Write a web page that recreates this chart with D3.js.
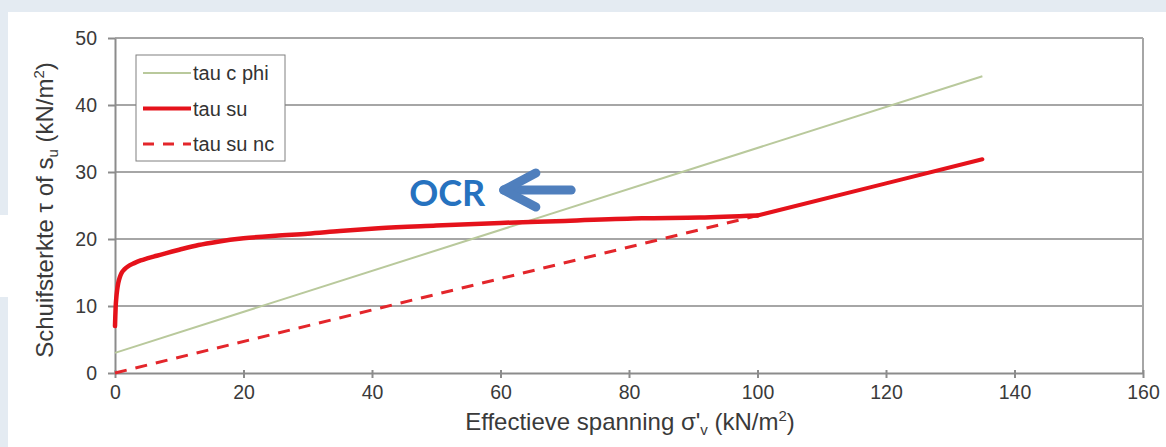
<!DOCTYPE html>
<html>
<head>
<meta charset="utf-8">
<script src="https://cdn.jsdelivr.net/npm/d3@7"></script>
<style>
  body { margin: 0; background: #e4ebf2; }
  svg { display: block; }
</style>
</head>
<body>
<script>
// effective stress (kN/m2) vs shear strength (kN/m2)
var phiX = [0, 135];
var phiY = [3, 44.3];

var suX = [0, 0.05, 0.1, 0.2, 0.35, 0.5, 0.75, 1, 1.5, 2, 3, 4, 5, 6.5, 8, 10, 13, 16, 20, 25, 30, 35, 41, 50, 60, 70, 82, 91, 100, 120, 135];
var suY = [7, 8.5, 9.8, 11.2, 12.5, 13.4, 14.3, 14.9, 15.5, 15.9, 16.4, 16.8, 17.1, 17.5, 17.9, 18.4, 19.1, 19.6, 20.1, 20.5, 20.8, 21.2, 21.6, 22, 22.4, 22.7, 23.1, 23.2, 23.5, 28.3, 31.9];

var ncX = [0, 100];
var ncY = [0, 23.5];

var xTicks = [0, 20, 40, 60, 80, 100, 120, 140, 160];
var yTicks = [0, 10, 20, 30, 40, 50];
var legendNames = ["tau c phi", "tau su", "tau su nc"];

var width = 1166, height = 447;
var font = "'Liberation Sans', Arial, sans-serif";
var preload = 100; // kink where the su line joins the nc line

var x = d3.scaleLinear().domain([0, 160]).range([115, 1143]);
var y = d3.scaleLinear().domain([0, 50]).range([373, 38]);

var svg = d3.select("body").append("svg")
    .attr("width", width)
    .attr("height", height);

// page background + white panel
svg.append("rect").attr("width", width).attr("height", height).attr("fill", "#e4ebf2");
svg.append("rect").attr("x", 8).attr("y", 12).attr("width", width - 8).attr("height", height - 12).attr("fill", "#ffffff");
svg.append("rect").attr("x", 0).attr("y", 215).attr("width", 8).attr("height", 82).attr("fill", "#ffffff");

// gridlines
svg.append("g")
  .selectAll("line")
  .data(yTicks.slice(1))
  .enter().append("line")
    .attr("x1", x(0)).attr("x2", x(160))
    .attr("y1", function(d) { return y(d); })
    .attr("y2", function(d) { return y(d); })
    .attr("stroke", "#a6a6a6")
    .attr("stroke-width", 2);

// right frame
svg.append("line")
    .attr("x1", x(160)).attr("x2", x(160))
    .attr("y1", y(50)).attr("y2", y(0))
    .attr("stroke", "#a6a6a6")
    .attr("stroke-width", 2);

// axes
var xAxis = svg.append("g")
    .attr("transform", "translate(0," + y(0) + ")")
    .call(d3.axisBottom(x).tickValues(xTicks).tickSize(5).tickPadding(7).tickSizeOuter(0));
var yAxis = svg.append("g")
    .attr("transform", "translate(" + x(0) + ",0)")
    .call(d3.axisLeft(y).tickValues(yTicks).tickSize(7).tickPadding(11).tickSizeOuter(0));

[xAxis, yAxis].forEach(function(a) {
  a.select(".domain").attr("stroke", "#8c8c8c").attr("stroke-width", 2);
  a.selectAll(".tick line").attr("stroke", "#8c8c8c").attr("stroke-width", 2);
  a.selectAll("text")
    .attr("font-family", font)
    .attr("font-size", "19.5px")
    .attr("fill", "#3a3a3a");
});
xAxis.selectAll(".tick line").attr("y1", -3);

// series
var line = d3.line()
    .x(function(d) { return x(d[0]); })
    .y(function(d) { return y(d[1]); });

function pairs(xs, ys) {
  return xs.map(function(v, i) { return [v, ys[i]]; });
}

svg.append("path")
    .attr("d", line(pairs(phiX, phiY)))
    .attr("fill", "none")
    .attr("stroke", "#b9c99c")
    .attr("stroke-width", 2);

svg.append("path")
    .attr("d", line(pairs(ncX, ncY)))
    .attr("fill", "none")
    .attr("stroke", "#e3262b")
    .attr("stroke-width", 3)
    .attr("stroke-dasharray", "12,9");

var su = pairs(suX, suY);
var suCurve = d3.line()
    .x(function(d) { return x(d[0]); })
    .y(function(d) { return y(d[1]); })
    .curve(d3.curveMonotoneX);

svg.append("path")
    .attr("d", suCurve(su.filter(function(d) { return d[0] <= preload; })))
    .attr("fill", "none")
    .attr("stroke", "#e5121b")
    .attr("stroke-width", 4.5)
    .attr("stroke-linecap", "round");
svg.append("path")
    .attr("d", line(su.filter(function(d) { return d[0] >= preload; })))
    .attr("fill", "none")
    .attr("stroke", "#e5121b")
    .attr("stroke-width", 4)
    .attr("stroke-linecap", "round");

// legend
var legend = svg.append("g").attr("transform", "translate(136,55)");
legend.append("rect")
    .attr("width", 149).attr("height", 106)
    .attr("fill", "#ffffff")
    .attr("stroke", "#808080")
    .attr("stroke-width", 1);

var legendStyles = [
  { stroke: "#b9c99c", w: 2, dash: null },
  { stroke: "#e5121b", w: 4, dash: null },
  { stroke: "#e3262b", w: 3, dash: "11,9" }
];

var item = legend.selectAll(".item")
  .data(legendNames)
  .enter().append("g")
    .attr("transform", function(d, i) { return "translate(0," + (18 + i * 35.5) + ")"; });

item.append("line")
    .attr("x1", 7).attr("x2", 55)
    .attr("stroke", function(d, i) { return legendStyles[i].stroke; })
    .attr("stroke-width", function(d, i) { return legendStyles[i].w; })
    .attr("stroke-dasharray", function(d, i) { return legendStyles[i].dash; });

item.append("text")
    .attr("x", 57)
    .attr("dy", "0.35em")
    .attr("font-family", font)
    .attr("font-size", "20px")
    .attr("fill", "#333")
    .text(function(d) { return d; });

// axis titles
var xt = svg.append("text")
    .attr("x", 630).attr("y", 430)
    .attr("text-anchor", "middle")
    .attr("font-family", font)
    .attr("font-size", "24px")
    .attr("fill", "#3a3a3a");
xt.append("tspan").text("Effectieve spanning σ'");
xt.append("tspan").attr("font-size", "15px").attr("dy", 5).text("v");
xt.append("tspan").attr("dy", -5).text(" (kN/m");
xt.append("tspan").attr("font-size", "15px").attr("dy", -9).text("2");
xt.append("tspan").attr("dy", 9).text(")");

var yt = svg.append("text")
    .attr("transform", "translate(53,210) rotate(-90)")
    .attr("text-anchor", "middle")
    .attr("font-family", font)
    .attr("font-size", "24px")
    .attr("fill", "#3a3a3a");
yt.append("tspan").text("Schuifsterkte τ of s");
yt.append("tspan").attr("font-size", "15px").attr("dy", 5).text("u");
yt.append("tspan").attr("dy", -5).text(" (kN/m");
yt.append("tspan").attr("font-size", "15px").attr("dy", -9).text("2");
yt.append("tspan").attr("dy", 9).text(")");

// OCR annotation
svg.append("text")
    .attr("x", x(51.7)).attr("y", y(26.8))
    .attr("dy", "0.36em")
    .attr("text-anchor", "middle")
    .attr("font-family", "Lato, 'Open Sans', sans-serif")
    .attr("font-weight", "bold")
    .attr("font-size", "36px")
    .attr("fill", "#2672bf")
    .text("OCR");

var ay = y(27.3);
var arrow = svg.append("g")
    .attr("fill", "none")
    .attr("stroke", "#4f7fbd")
    .attr("stroke-width", 9)
    .attr("stroke-linecap", "round")
    .attr("stroke-linejoin", "round");
arrow.append("line").attr("x1", x(71)).attr("x2", x(60.5)).attr("y1", ay).attr("y2", ay);
arrow.append("path")
    .attr("d", "M" + x(65.5) + "," + (ay - 17) + "L" + x(60.5) + "," + ay + "L" + x(65.5) + "," + (ay + 17));
</script>
</body>
</html>
